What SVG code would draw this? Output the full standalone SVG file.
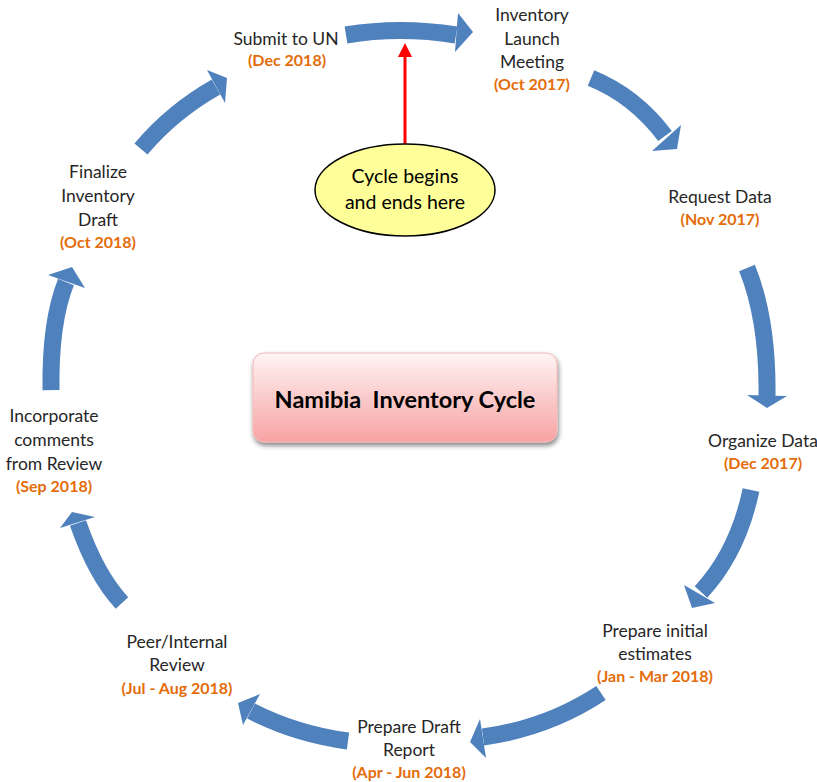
<svg xmlns="http://www.w3.org/2000/svg" width="817" height="782" viewBox="0 0 817 782">
<defs>
<linearGradient id="boxg" x1="0" y1="0" x2="0" y2="1">
<stop offset="0" stop-color="#FFF4F4"/>
<stop offset="0.45" stop-color="#FBCFCF"/>
<stop offset="1" stop-color="#F7A3A3"/>
</linearGradient>
<filter id="sh" x="-10%" y="-10%" width="130%" height="140%">
<feGaussianBlur in="SourceAlpha" stdDeviation="2.5"/>
<feOffset dx="1" dy="3" result="b"/>
<feComponentTransfer><feFuncA type="linear" slope="0.5"/></feComponentTransfer>
<feMerge><feMergeNode/><feMergeNode in="SourceGraphic"/></feMerge>
</filter>
</defs>
<style>
.lbl{font-family:Lato,"Liberation Sans",sans-serif;font-size:17.5px;fill:#262626;text-anchor:middle}
.dt{font-family:Lato,"Liberation Sans",sans-serif;font-size:16px;font-weight:bold;fill:#E46C0A;text-anchor:middle}
.body{fill:none;stroke:#4F81BD;stroke-width:17}
.head{fill:#4F81BD}
</style>
<g id="connectors">
<path class="body" d="M346,35 Q400,26 456,35"/>
<polygon class="head" points="458,13 473,32 455,52"/>
<path class="body" d="M591,78 Q635,96 665,136"/>
<polygon class="head" points="681,125 677,149 652,151"/>
<path class="body" d="M747,268 Q768,320 767,396"/>
<polygon class="head" points="747,395 787,396 767,408"/>
<path class="body" d="M751,490 Q738,552 701,592"/>
<polygon class="head" points="684,585 692,608 715,603"/>
<path class="body" d="M601,693 Q548,728 483,737"/>
<polygon class="head" points="480,719 470,742 486,758"/>
<path class="body" d="M348,741 Q296,734 251,711"/>
<polygon class="head" points="260,694 238,703 243,725"/>
<path class="body" d="M122,603 Q96,575 78,523"/>
<polygon class="head" points="60,528 72,512 95,517"/>
<path class="body" d="M51,390 Q50,322 66,282"/>
<polygon class="head" points="48,275 72,267 85,288"/>
<path class="body" d="M141,149 Q172,112 216,87"/>
<polygon class="head" points="207,70 227,78 225,103"/>
<line x1="405" y1="144" x2="405" y2="56" stroke="#FF0000" stroke-width="3"/>
<polygon points="398,57 405,43 412,57" fill="#FF0000"/>
</g>
<g id="center">
<rect x="253" y="353" width="304" height="89" rx="11" fill="url(#boxg)" stroke="#F4B8B8" stroke-width="1" filter="url(#sh)"/>
<text x="405" y="408" font-family="Lato,'Liberation Sans',sans-serif" font-size="23.5" font-weight="bold" fill="#000" text-anchor="middle" xml:space="preserve">Namibia  Inventory Cycle</text>
</g>
<g id="start">
<ellipse cx="405" cy="190" rx="90" ry="46" fill="#FFFF99" stroke="#000" stroke-width="1.5"/>
<text x="405" y="183" font-family="Lato,'Liberation Sans',sans-serif" font-size="19.5" fill="#000" text-anchor="middle">Cycle begins</text>
<text x="405" y="209" font-family="Lato,'Liberation Sans',sans-serif" font-size="19.5" fill="#000" text-anchor="middle">and ends here</text>
</g>
<g id="n-launch"><text class="lbl" x="532" y="21">Inventory</text><text class="lbl" x="532" y="45">Launch</text><text class="lbl" x="532" y="68">Meeting</text><text class="dt" x="532" y="90">(Oct 2017)</text></g>
<g id="n-request"><text class="lbl" x="720" y="203">Request Data</text><text class="dt" x="720" y="225">(Nov 2017)</text></g>
<g id="n-organize"><text class="lbl" x="763" y="447">Organize Data</text><text class="dt" x="763" y="469">(Dec 2017)</text></g>
<g id="n-estimates"><text class="lbl" x="655" y="637">Prepare initial</text><text class="lbl" x="655" y="660">estimates</text><text class="dt" x="655" y="682">(Jan - Mar 2018)</text></g>
<g id="n-draft"><text class="lbl" x="409" y="733">Prepare Draft</text><text class="lbl" x="409" y="756">Report</text><text class="dt" x="409" y="778">(Apr - Jun 2018)</text></g>
<g id="n-peer"><text class="lbl" x="177" y="648">Peer/Internal</text><text class="lbl" x="177" y="671">Review</text><text class="dt" x="177" y="694">(Jul - Aug 2018)</text></g>
<g id="n-incorporate"><text class="lbl" x="54" y="422">Incorporate</text><text class="lbl" x="54" y="446">comments</text><text class="lbl" x="54" y="470">from Review</text><text class="dt" x="54" y="492">(Sep 2018)</text></g>
<g id="n-finalize"><text class="lbl" x="98" y="178">Finalize</text><text class="lbl" x="98" y="202">Inventory</text><text class="lbl" x="98" y="226">Draft</text><text class="dt" x="98" y="248">(Oct 2018)</text></g>
<g id="n-submit"><text class="lbl" x="286" y="45">Submit to UN</text><text class="dt" x="287" y="66">(Dec 2018)</text></g>
</svg>
